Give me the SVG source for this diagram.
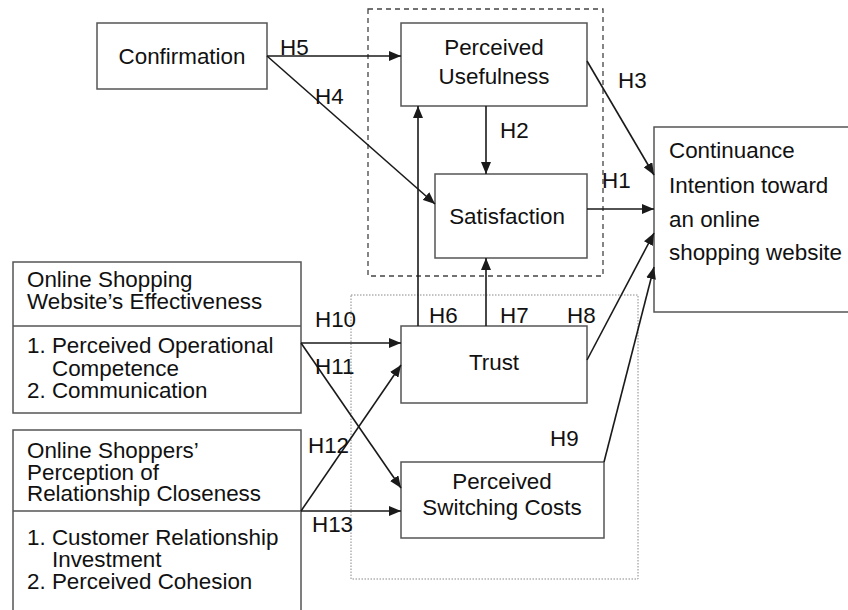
<svg xmlns="http://www.w3.org/2000/svg" width="848" height="610" viewBox="0 0 848 610">
  <style>
    .box { fill: #ffffff; stroke: #555555; stroke-width: 1.5; }
    .t { font-family: "Liberation Sans", Arial, sans-serif; font-size: 22.4px; fill: #111111; }
    .c { text-anchor: middle; }
    .edge { stroke: #1a1a1a; stroke-width: 1.6; fill: none; }
    .arr { marker-end: url(#head); }
  </style>
  <defs>
    <marker id="head" viewBox="0 0 12 10" refX="12" refY="5" markerWidth="12" markerHeight="10" markerUnits="userSpaceOnUse" orient="auto">
      <path d="M0,0 L12,5 L0,10 z" fill="#1a1a1a"/>
    </marker>
  </defs>

  <rect width="848" height="610" fill="#ffffff"/>

  <!-- grouping frames -->
  <g id="frames">
    <rect x="368" y="9" width="235" height="267" fill="none" stroke="#444444" stroke-width="1.3" stroke-dasharray="5,4"/>
    <rect x="351" y="295" width="287" height="284" fill="none" stroke="#888888" stroke-width="1" stroke-dasharray="1.5,1.5"/>
  </g>

  <g id="confirmation">
    <rect class="box" x="97" y="23" width="170" height="66"/>
    <text class="t c" x="182" y="64">Confirmation</text>
  </g>

  <g id="usefulness">
    <rect class="box" x="401" y="23" width="186" height="83"/>
    <text class="t c" x="494" y="55">Perceived</text>
    <text class="t c" x="494" y="84">Usefulness</text>
  </g>

  <g id="satisfaction">
    <rect class="box" x="435" y="174" width="152" height="84"/>
    <text class="t c" x="507" y="224">Satisfaction</text>
  </g>

  <g id="continuance">
    <rect class="box" x="654" y="127" width="200" height="185"/>
    <text class="t" x="669" y="158">Continuance</text>
    <text class="t" x="669" y="193">Intention toward</text>
    <text class="t" x="669" y="227">an online</text>
    <text class="t" x="669" y="260">shopping website</text>
  </g>

  <g id="trust">
    <rect class="box" x="401" y="326" width="186" height="77"/>
    <text class="t c" x="494" y="370">Trust</text>
  </g>

  <g id="switching">
    <rect class="box" x="401" y="462" width="203" height="76"/>
    <text class="t c" x="502" y="489">Perceived</text>
    <text class="t c" x="502" y="515">Switching Costs</text>
  </g>

  <g id="effectiveness">
    <rect class="box" x="13" y="262" width="288" height="151"/>
    <line x1="13" y1="326" x2="301" y2="326" stroke="#555555" stroke-width="1.5"/>
    <text class="t" x="27" y="287">Online Shopping</text>
    <text class="t" x="27" y="309">Website’s Effectiveness</text>
    <text class="t" x="27" y="353">1. Perceived Operational</text>
    <text class="t" x="52" y="376">Competence</text>
    <text class="t" x="27" y="398">2. Communication</text>
  </g>

  <g id="closeness">
    <rect class="box" x="13" y="430" width="288" height="190"/>
    <line x1="13" y1="511" x2="301" y2="511" stroke="#555555" stroke-width="1.5"/>
    <text class="t" x="27" y="458">Online Shoppers’</text>
    <text class="t" x="27" y="480">Perception of</text>
    <text class="t" x="27" y="501">Relationship Closeness</text>
    <text class="t" x="27" y="545">1. Customer Relationship</text>
    <text class="t" x="52" y="567">Investment</text>
    <text class="t" x="27" y="589">2. Perceived Cohesion</text>
  </g>

  <g id="connectors">
    <line class="edge arr" x1="267" y1="56" x2="401" y2="56"/>
    <line class="edge arr" x1="267" y1="56" x2="435" y2="204"/>
    <line class="edge arr" x1="486" y1="106" x2="486" y2="174"/>
    <line class="edge arr" x1="587" y1="61" x2="654" y2="175"/>
    <line class="edge arr" x1="587" y1="209" x2="654" y2="209"/>
    <line class="edge arr" x1="587" y1="360" x2="654" y2="233"/>
    <line class="edge arr" x1="604" y1="462" x2="654" y2="267"/>
    <line class="edge arr" x1="418" y1="326" x2="418" y2="106"/>
    <line class="edge arr" x1="486" y1="326" x2="486" y2="258"/>
    <line class="edge arr" x1="301" y1="343" x2="401" y2="343"/>
    <line class="edge arr" x1="301" y1="343" x2="401" y2="488"/>
    <line class="edge arr" x1="301" y1="511" x2="401" y2="365"/>
    <line class="edge arr" x1="301" y1="511" x2="401" y2="511"/>
  </g>

  <g id="labels">
    <text class="t" x="280" y="55">H5</text>
    <text class="t" x="315" y="104">H4</text>
    <text class="t" x="618" y="88">H3</text>
    <text class="t" x="500" y="138">H2</text>
    <text class="t" x="602" y="188">H1</text>
    <text class="t" x="429" y="323">H6</text>
    <text class="t" x="500" y="323">H7</text>
    <text class="t" x="567" y="323">H8</text>
    <text class="t" x="550" y="446">H9</text>
    <text class="t" x="315" y="327">H10</text>
    <text class="t" x="315" y="374">H11</text>
    <text class="t" x="308" y="453">H12</text>
    <text class="t" x="312" y="532">H13</text>
  </g>
</svg>
